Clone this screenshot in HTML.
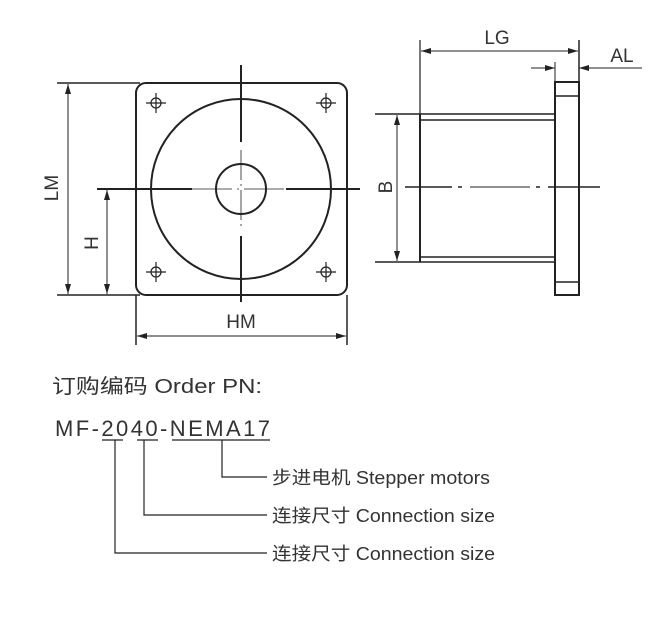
<!DOCTYPE html>
<html><head><meta charset="utf-8"><style>body{margin:0;background:#fff}svg{display:block}</style></head><body>
<svg width="670" height="617" viewBox="0 0 670 617" xmlns="http://www.w3.org/2000/svg" font-family="Liberation Sans, Noto Sans CJK SC, sans-serif" fill="#222">
<defs><marker id="a" viewBox="0 0 10 6" refX="10" refY="3" markerWidth="10" markerHeight="6" orient="auto-start-reverse" markerUnits="userSpaceOnUse"><path d="M0,0L10,3L0,6z" fill="#222"/></marker></defs>
<g stroke="#222" fill="none">
<!-- front view -->
<rect x="136" y="83" width="211" height="212" rx="10" stroke-width="2"/>
<circle cx="241" cy="189" r="90" stroke-width="2"/>
<circle cx="241" cy="189" r="25" stroke-width="2"/>
<line x1="57" y1="83" x2="140" y2="83" stroke-width="1.5"/>
<line x1="57" y1="295" x2="140" y2="295" stroke-width="1.5"/>
<line x1="241" y1="65" x2="241" y2="142" stroke-width="2"/>
<line x1="241" y1="236" x2="241" y2="302" stroke-width="2"/>
<line x1="241" y1="150" x2="241" y2="230" stroke-width="0.8" stroke-dasharray="30,4,2,4"/>
<line x1="97" y1="189" x2="192" y2="189" stroke-width="2"/>
<line x1="286" y1="189" x2="360" y2="189" stroke-width="2"/>
<line x1="192" y1="189" x2="286" y2="189" stroke-width="0.8" stroke-dasharray="40,5,2,5"/>
<g stroke-width="1.2">
<circle cx="156" cy="103" r="5"/><path d="M146 103h20M156 93v20"/>
<circle cx="326" cy="103" r="5"/><path d="M316 103h20M326 93v20"/>
<circle cx="156" cy="272" r="5"/><path d="M146 272h20M156 262v20"/>
<circle cx="326" cy="272" r="5"/><path d="M316 272h20M326 262v20"/>
</g>
<line x1="68" y1="84" x2="68" y2="294" stroke-width="1" marker-start="url(#a)" marker-end="url(#a)"/>
<line x1="107" y1="190" x2="107" y2="294" stroke-width="1" marker-start="url(#a)" marker-end="url(#a)"/>
<line x1="136" y1="295" x2="136" y2="345" stroke-width="1.5"/>
<line x1="347" y1="295" x2="347" y2="345" stroke-width="1.5"/>
<line x1="137" y1="336" x2="346" y2="336" stroke-width="1" marker-start="url(#a)" marker-end="url(#a)"/>
<!-- side view -->
<rect x="555" y="82" width="24" height="213" stroke-width="2"/>
<line x1="555" y1="96" x2="579" y2="96" stroke-width="1.5"/>
<line x1="555" y1="282" x2="579" y2="282" stroke-width="1.5"/>
<line x1="420" y1="114" x2="420" y2="262" stroke-width="2"/>
<line x1="420" y1="40" x2="420" y2="114" stroke-width="1.2"/>
<line x1="579" y1="40" x2="579" y2="82" stroke-width="1.5"/>
<line x1="555" y1="62" x2="555" y2="82" stroke-width="1"/>
<line x1="375" y1="114" x2="555" y2="114" stroke-width="1.5"/>
<line x1="420" y1="120" x2="555" y2="120" stroke-width="1.5"/>
<line x1="420" y1="257" x2="555" y2="257" stroke-width="1.5"/>
<line x1="375" y1="262" x2="555" y2="262" stroke-width="1.5"/>
<line x1="421" y1="51" x2="578" y2="51" stroke-width="1" marker-start="url(#a)" marker-end="url(#a)"/>
<line x1="531" y1="68" x2="555" y2="68" stroke-width="1" marker-end="url(#a)"/>
<line x1="642" y1="68" x2="579" y2="68" stroke-width="1" marker-end="url(#a)"/>
<line x1="397" y1="115" x2="397" y2="261" stroke-width="1" marker-start="url(#a)" marker-end="url(#a)"/>
<line x1="405" y1="187" x2="452" y2="187" stroke-width="1.5"/>
<line x1="470" y1="187" x2="530" y2="187" stroke-width="1"/>
<line x1="548" y1="187" x2="600" y2="187" stroke-width="1.5"/>
<path d="M458 187h4M536 187h4" stroke-width="1.5"/>
<!-- order code -->
<g stroke-width="1.2">
<path d="M102 440h21M137 440h21M172 440h98"/>
<path d="M115 440V553H267M144 440V515H267M222 440V477H267"/>
</g>
</g>
<g font-size="19" fill="#333">
<text x="241" y="328" text-anchor="middle">HM</text>
<text x="497" y="44" text-anchor="middle">LG</text>
<text x="622" y="62" text-anchor="middle">AL</text>
<text transform="translate(58,188) rotate(-90)" text-anchor="middle">LM</text>
<text transform="translate(98,243) rotate(-90)" text-anchor="middle">H</text>
<text transform="translate(392,187) rotate(-90)" text-anchor="middle">B</text>
</g>
<text x="52" y="393" font-size="20" fill="#333" textLength="210" lengthAdjust="spacingAndGlyphs">订购编码 Order PN:</text>
<text x="55" y="436" font-size="22" fill="#333" textLength="215" lengthAdjust="spacing">MF-2040-NEMA17</text>
<g font-size="18" fill="#333">
<text x="272" y="484" textLength="218" lengthAdjust="spacingAndGlyphs">步进电机 Stepper motors</text>
<text x="272" y="522" textLength="223" lengthAdjust="spacingAndGlyphs">连接尺寸 Connection size</text>
<text x="272" y="560" textLength="223" lengthAdjust="spacingAndGlyphs">连接尺寸 Connection size</text>
</g>
</svg>
</body></html>
